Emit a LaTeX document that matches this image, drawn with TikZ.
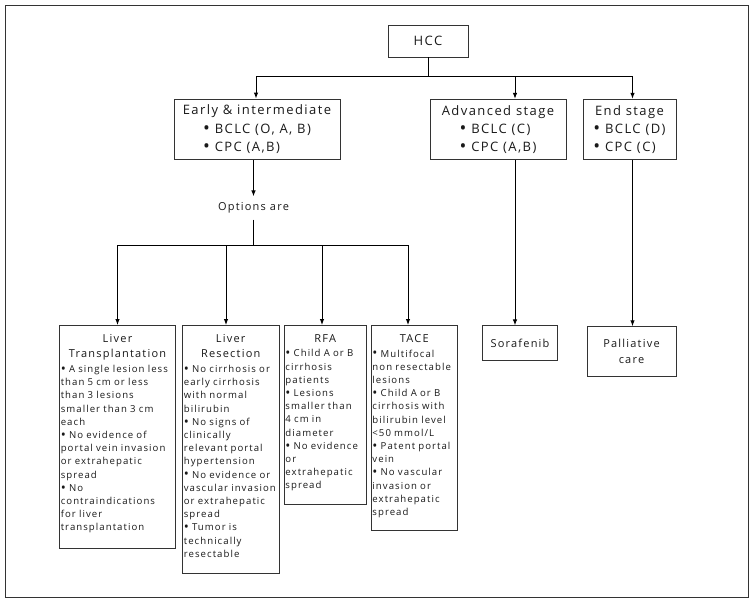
\documentclass[tikz,border=0pt]{standalone}
\usepackage{fontspec}
\setmainfont{Open Sans}[LetterSpace=11]
\usepackage{calc}
\usetikzlibrary{arrows.meta}

\newcommand\bul{\raisebox{-0.08em}{\scalebox{1.4}{•}}}
\newcommand\samewd[2]{\makebox[\widthof{#1}][l]{#2}}
\newcommand\opthead[1]{{\centering\fontsize{11}{15.3}\selectfont #1\par}\vspace{1.5pt}}
\newcommand\optend{\par\vspace{4pt}}

\begin{document}
\begin{tikzpicture}[x=1pt, y=-1pt, >={Latex[length=6pt,width=4.5pt]},
  box/.style={draw=black!80, line width=0.8pt, inner sep=0pt, align=center, text=black!90},
  stage/.style={box, font=\fontsize{13}{18.3}\selectfont, minimum height=60.5pt},
  optbox/.style={box, anchor=north, align=left, inner xsep=1.5pt, inner ysep=9pt,
    font=\fontsize{9.6}{13.2}\selectfont, execute at end node=\optend},
  line/.style={line width=1pt}]
\useasboundingbox (0,0) rectangle (753,602);
\draw[black!80] (5,5) rectangle (748,597);

\node[box, minimum width=80pt, minimum height=32pt, font=\fontsize{13}{16}\selectfont] at (428,41)(hcc) {HCC};

\node[stage, minimum width=166pt] at (257,129.2)(early) {Early \& intermediate\\
  \bul{} BCLC (O, A, B)\\\samewd{\bul{} BCLC (O, A, B)}{\bul{} CPC (A,B)}};
\node[stage, minimum width=136pt] at (498,129.5)(adv) {Advanced stage\\
  \samewd{\bul{} CPC (A,B)}{\bul{} BCLC (C)}\\\bul{} CPC (A,B)};
\node[stage, minimum width=93pt] at (629.5,129.5)(endst) {End stage\\
  \bul{} BCLC (D)\\\samewd{\bul{} BCLC (D)}{\bul{} CPC (C)}};

\node[text=black!90, inner xsep=2pt, inner ysep=6pt, font=\fontsize{11}{13}\selectfont] at (253.5,208)(opts) {Options are};

\node[optbox, text width=113.4pt] at (117.5,325)(lt) {\opthead{Liver\\Transplantation}%
  \bul{} A single lesion less\\than 5 cm or less\\than 3 lesions\\smaller than 3 cm\\each\\
  \bul{} No evidence of\\portal vein invasion\\or extrahepatic\\spread\\
  \bul{} No\\contraindications\\for liver\\transplantation\par\vspace{2pt}};
\node[optbox, text width=93.7pt] at (230.7,325)(lr) {\opthead{Liver\\Resection}%
  \bul{} No cirrhosis or\\early cirrhosis\\with normal\\bilirubin\\
  \bul{} No signs of\\clinically\\relevant portal\\hypertension\\
  \bul{} No evidence or\\vascular invasion\\or extrahepatic\\spread\\
  \bul{} Tumor is\\technically\\resectable\par\vspace{3pt}};
\node[optbox, text width=79.7pt] at (325.3,325)(rfa) {\opthead{RFA}%
  \bul{} Child A or B\\cirrhosis\\patients\\
  \bul{} Lesions\\smaller than\\4 cm in\\diameter\\
  \bul{} No evidence\\or\\extrahepatic\\spread};
\node[optbox, text width=83.7pt] at (414.3,325)(tace) {\opthead{TACE}%
  \bul{} Multifocal\\non resectable\\lesions\\
  \bul{} Child A or B\\cirrhosis with\\bilirubin level\\<50 mmol/L\\
  \bul{} Patent portal\\vein\\
  \bul{} No vascular\\invasion or\\extrahepatic\\spread};

\node[box, minimum width=74.3pt, minimum height=34.3pt, font=\fontsize{11}{13}\selectfont] at (520,343)(sora) {Sorafenib};
\node[box, minimum width=89pt, minimum height=49.3pt, font=\fontsize{11}{16}\selectfont] at (631.5,351.3)(pall) {Palliative\\care};

% stage branches
\coordinate (split) at (428,77);
\draw[line] (hcc) -- (split);
\draw[line,->] (split) -| ([xshift=-1pt]early.north);
\draw[line,->] (split) -| ([xshift=17pt]adv.north);
\draw[line,->] (split) -| ([xshift=3pt]endst.north);

% treatment options
\draw[line,->] (opts.north |- early.south) -- (opts.north);
\coordinate (split2) at (253.5,245);
\draw[line] (opts) -- (split2);
\draw[line,->] (split2) -| (lt.north);
\draw[line,->] (split2) -| ([xshift=-4.7pt]lr.north);
\draw[line,->] (split2) -| ([xshift=-3.3pt]rfa.north);
\draw[line,->] (split2) -| ([xshift=-6.3pt]tace.north);

\draw[line,->] ([xshift=17pt]adv.south) -- ([xshift=17pt]adv.south |- sora.north);
\draw[line,->] ([xshift=3pt]endst.south) -- ([xshift=3pt]endst.south |- pall.north);
\end{tikzpicture}
\end{document}
